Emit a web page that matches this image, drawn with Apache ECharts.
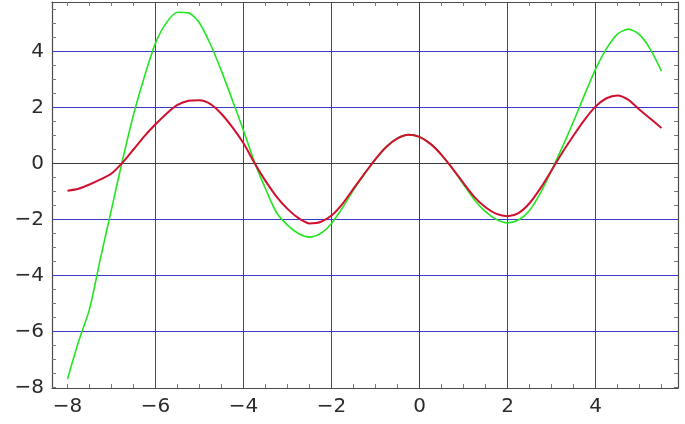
<!DOCTYPE html>
<html>
<head>
<meta charset="utf-8">
<title>curves</title>
<script src="https://cdn.jsdelivr.net/npm/echarts@6/dist/echarts.min.js"></script>
<style>
  html, body { margin: 0; padding: 0; background: #fff; }
  #chart { width: 685px; height: 424px; }
</style>
</head>
<body>
<div id="chart"></div>
<script>
// x positions (step 0.25)
const xs = [
  -8, -7.75, -7.5, -7.25, -7, -6.75, -6.5, -6.25, -6, -5.75, -5.5, -5.25,
  -5, -4.75, -4.5, -4.25, -4, -3.75, -3.5, -3.25, -3, -2.75, -2.5, -2.25,
  -2, -1.75, -1.5, -1.25, -1, -0.75, -0.5, -0.25, 0, 0.25, 0.5, 0.75,
  1, 1.25, 1.5, 1.75, 2, 2.25, 2.5, 2.75, 3, 3.25, 3.5, 3.75,
  4, 4.25, 4.5, 4.75, 5, 5.25, 5.5,
];
// red curve
const redY = [
  -0.97, -0.9, -0.75, -0.57, -0.36, 0.03, 0.5, 0.98, 1.4, 1.78, 2.09, 2.24,
  2.26, 2.12, 1.77, 1.29, 0.72, 0.02, -0.62, -1.18, -1.62, -1.95, -2.14, -2.09,
  -1.86, -1.44, -0.9, -0.36, 0.16, 0.6, 0.9, 1.03, 0.95, 0.7, 0.31, -0.18,
  -0.7, -1.2, -1.56, -1.8, -1.88, -1.77, -1.42, -0.88, -0.25, 0.4, 1.0, 1.56,
  2.03, 2.33, 2.43, 2.27, 1.92, 1.6, 1.27,
];
// green curve
const greenY = [
  -7.7, -6.37, -5.2, -3.38, -1.64, 0.12, 1.74, 3.11, 4.3, 5.03, 5.4, 5.38,
  5.02, 4.25, 3.3, 2.25, 1.18, 0.05, -0.9, -1.75, -2.2, -2.5, -2.63, -2.5,
  -2.14, -1.58, -0.95, -0.38, 0.15, 0.6, 0.9, 1.03, 0.95, 0.7, 0.31, -0.18,
  -0.75, -1.3, -1.72, -2.0, -2.12, -2.02, -1.68, -1.05, -0.25, 0.6, 1.5, 2.45,
  3.36, 4.1, 4.62, 4.8, 4.6, 4.07, 3.3,
];
// tick labels
const xLabels = [-8, -6, -4, -2, 0, 2, 4];
const yLabels = [-8, -6, -4, -2, 0, 2, 4];
const xMinor = [];
for (let v = -8; v <= 5.5; v += 0.5) xMinor.push(v);
const yMinor = [];
for (let v = -8; v <= 5.5; v += 0.5) yMinor.push(v);
const xGrid = [-6, -4, -2, 2, 4];
const yGrid = [-6, -4, -2, 2, 4];

// 坐标范围 (44 px / unit on x, 28 px / unit on y)
const xMin = (52 - 419.5) / 44;
const xMax = (678 - 419.5) / 44;
const yMin = (163.5 - 388) / 28;
const yMax = (163.5 - 2) / 28;

const chart = echarts.init(document.getElementById('chart'));

const frameColor = '#4a4a4a';
const gridBlue = '#3a3ac8';
const zeroColor = '#3c3c3c';
const fmt = (v) => (v < 0 ? '\u2212' + Math.abs(v) : String(v));

// 坐标轴公共样式
function makeAxis(extra, minor, labels, showLabel, margin) {
  return Object.assign({
    type: 'value',
    axisLine: { show: true, onZero: false, lineStyle: { color: frameColor, width: 1.2 } },
    axisTick: { show: true, inside: true, length: 4, customValues: minor,
      lineStyle: { color: '#777', width: 1 } },
    axisLabel: {
      show: showLabel, customValues: labels, formatter: fmt, margin: margin,
      fontFamily: 'DejaVu Sans', fontSize: 20, color: '#2a2a2a',
    },
    splitLine: { show: false },
  }, extra);
}

// 网格线: 每条线一个两点折线 (放在坐标轴之上, 曲线之下)
function gridLine(points, color) {
  return {
    type: 'line',
    silent: true,
    symbol: 'none',
    data: points,
    itemStyle: { color: color },
    lineStyle: { color: color, width: 1 },
    z: 2.5,
  };
}
const gridSeries = [];
xGrid.forEach((v) => gridSeries.push(gridLine([[v, yMin], [v, yMax]], gridBlue)));
yGrid.forEach((v) => gridSeries.push(gridLine([[xMin, v], [xMax, v]], gridBlue)));
gridSeries.push(gridLine([[0, yMin], [0, yMax]], zeroColor));
gridSeries.push(gridLine([[xMin, 0], [xMax, 0]], zeroColor));

chart.setOption({
  animation: false,
  grid: { left: 52, right: 7, top: 2, bottom: 36, containLabel: false, outerBoundsMode: 'none' },
  xAxis: [
    makeAxis({ position: 'bottom', min: xMin, max: xMax }, xMinor, xLabels, true, 9),
    makeAxis({ position: 'top', min: xMin, max: xMax }, xMinor, xLabels, false, 8),
  ],
  yAxis: [
    makeAxis({ position: 'left', min: yMin, max: yMax }, yMinor, yLabels, true, 8),
    makeAxis({ position: 'right', min: yMin, max: yMax }, yMinor, yLabels, false, 8),
  ],
  series: gridSeries.concat([
    {
      name: 'green',
      type: 'line',
      symbol: 'none',
      smooth: 0.25,
      data: xs.map((x, i) => [x, greenY[i]]),
      lineStyle: { color: '#22e622', width: 1.6 },
      z: 3,
    },
    {
      name: 'red',
      type: 'line',
      symbol: 'none',
      smooth: 0.25,
      data: xs.map((x, i) => [x, redY[i]]),
      lineStyle: { color: '#d0102e', width: 2 },
      z: 4,
    },
  ]),
});
</script>
</body>
</html>
